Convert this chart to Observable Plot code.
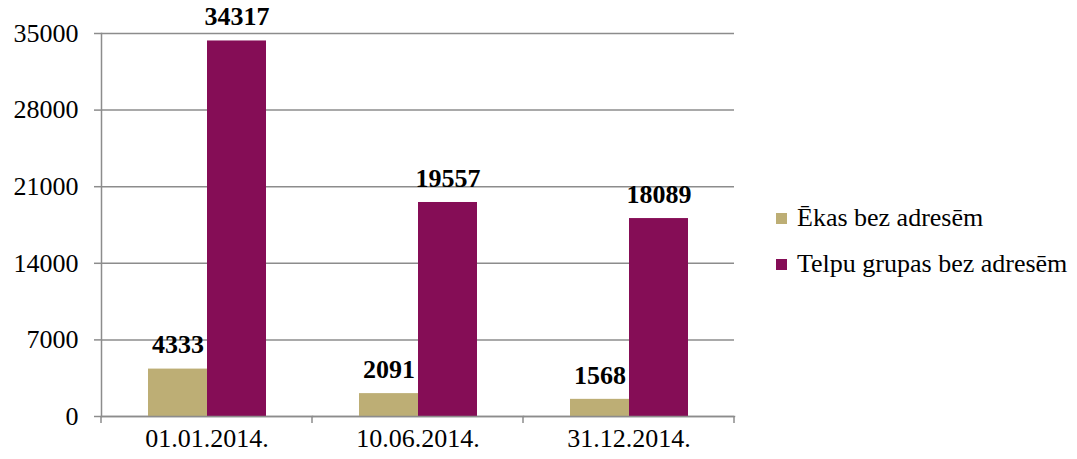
<!DOCTYPE html>
<html><head><meta charset="utf-8">
<script src="https://cdn.jsdelivr.net/npm/d3@7"></script>
<script src="https://cdn.jsdelivr.net/npm/@observablehq/plot@0.6"></script>
<style>
body{margin:0;background:#fff}
#wrap{position:relative;width:1077px;height:459px}
.legend{position:absolute;left:776px;top:195px;font-family:"Liberation Serif","Times New Roman",Times,serif;font-size:26px;color:#000}
.legend div{display:flex;align-items:center;height:46px;white-space:nowrap}
.legend span.sw{display:inline-block;width:11px;height:11px;margin-right:10px}
</style></head><body><div id="wrap"></div>
<script>
const categories = ["01.01.2014.", "10.06.2014.", "31.12.2014."];
const series = ["Ēkas bez adresēm", "Telpu grupas bez adresēm"];
const ekas = [4333, 2091, 1568];
const telpu = [34317, 19557, 18089];
const yTicks = [0, 7000, 14000, 21000, 28000, 35000];
const colors = ["#BDAE75", "#850D56"];

const data = categories.flatMap((c, i) => [
  {cat: c, series: series[0], value: ekas[i]},
  {cat: c, series: series[1], value: telpu[i]}
]);
const gridColor = "#8c8c8c";
const serif = '"Liberation Serif", "Times New Roman", Times, serif';

const plot = Plot.plot({
  width: 1077, height: 459,
  marginLeft: 100, marginRight: 342, marginTop: 33, marginBottom: 43,
  style: {fontFamily: serif, fontSize: "26px", color: "#000", background: "#fff"},
  fx: {domain: categories, paddingInner: 0, paddingOuter: 0, label: null},
  x: {domain: series, paddingInner: 0, paddingOuter: 0.764, axis: null},
  y: {domain: [0, 35000], label: null},
  color: {domain: series, range: colors},
  marks: [
    Plot.gridY(yTicks, {stroke: gridColor, strokeOpacity: 1, strokeWidth: 1.5}),
    Plot.axisY(yTicks, {tickSize: 7, tickPadding: 16, stroke: gridColor, strokeWidth: 1.5, tickFormat: d => String(d), label: null, fontSize: 26}),
    Plot.axisFx({anchor: "bottom", tickSize: 0, tickPadding: 12, label: null, fontSize: 26}),
    Plot.frame({anchor: "left", facetAnchor: "left", stroke: gridColor, strokeWidth: 1.5}),
    Plot.barY(data, {fx: "cat", x: "series", y: "value", fill: "series"}),
    Plot.frame({anchor: "bottom", stroke: gridColor, strokeWidth: 1.5}),
    Plot.text(data, {fx: "cat", x: "series", y: "value", text: d => String(d.value), dy: -24, fontWeight: "bold", fontSize: 26, fill: "#000"})
  ]
});

// boundary tick marks for category axis, positioned with Plot's fx scale
const fx = plot.scale("fx");
const yS = plot.scale("y");
const y0 = yS.apply(0);
const bounds = [];
categories.forEach((c, i) => {
  const start = fx.apply(c);
  bounds.push(start);
  if (i === categories.length - 1) bounds.push(start + fx.bandwidth);
});
d3.select(plot).append("g")
  .selectAll("line").data(bounds).join("line")
  .attr("x1", d => d).attr("x2", d => d)
  .attr("y1", y0).attr("y2", y0 + 7)
  .attr("stroke", gridColor).attr("stroke-width", 1.5);

const wrap = document.getElementById("wrap");
wrap.appendChild(plot);
const leg = document.createElement("div");
leg.className = "legend";
series.forEach((s, i) => {
  const row = document.createElement("div");
  row.innerHTML = `<span class="sw" style="background:${colors[i]}"></span><span>${s}</span>`;
  leg.appendChild(row);
});
wrap.appendChild(leg);
</script>
</body></html>
